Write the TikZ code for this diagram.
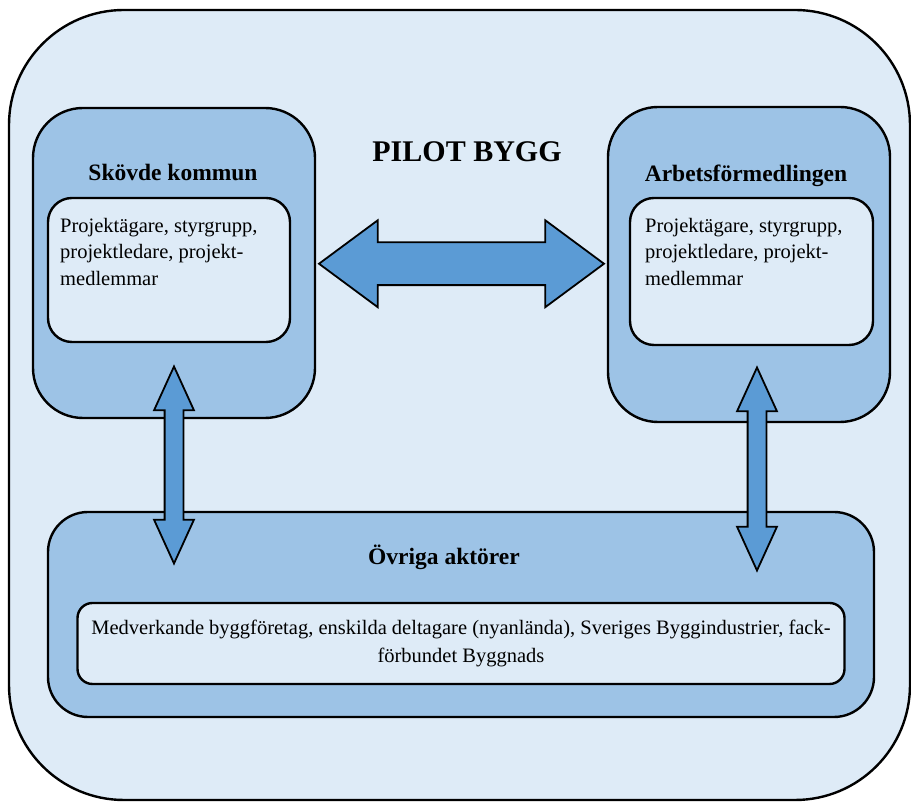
\documentclass[tikz,border=0pt]{standalone}
\usepackage{fontspec}
\setmainfont{Liberation Serif}
\usetikzlibrary{calc, positioning, shapes.arrows}
\definecolor{paleblue}{HTML}{DEEBF7}
\definecolor{midblue}{HTML}{9DC3E6}
\definecolor{arrowblue}{HTML}{5B9BD5}

\begin{document}
\begin{tikzpicture}[x=1pt, y=1pt,
box/.style = {rectangle, draw, line width=2.4pt, inner sep=0pt, outer sep=0pt},
party/.style = {box, fill=midblue, rounded corners=50pt, minimum width=282pt},
roles/.style = {box, fill=paleblue, rounded corners=24pt},
head/.style = {font=\fontsize{23.5}{28}\selectfont\bfseries},
body/.style = {font=\fontsize{20.5}{26.5}\selectfont, align=left, inner sep=0pt},
DA/.style = {% Double Arrow
double arrow, draw, line width=1.8pt, fill=arrowblue, inner xsep=0pt},
LA/.style = {% Link Arrow, between the parties
DA, inner ysep=20.5pt, double arrow head extend=22pt,
double arrow tip angle=73, minimum height=#1},
VA/.style = {% Vertical Arrow, down to the others
DA, rotate=90, inner ysep=8.5pt, double arrow head extend=10.5pt,
double arrow tip angle=49, minimum height=#1}]
\useasboundingbox (0,0) rectangle (911,802);
\node[box, fill=paleblue, rounded corners=115pt, minimum width=901pt, minimum height=790pt] (pilot) at (459.5,397) {};
\node[font=\fontsize{30}{36}\selectfont\bfseries] (title) at (467,650) {PILOT BYGG};
% the two parties
\node[party, minimum height=310pt] (skovde) at (174,539) {};
\node[party, minimum height=315pt] (arbets) at (749,537.5) {};
\node[roles, minimum width=242pt, minimum height=144pt] (skovdeIn) at (169,532) {};
\node[roles, minimum width=243pt, minimum height=147pt] (arbetsIn) at (751.5,530.5) {};
\node[head] (skovdeHead) at (173,629) {Skövde kommun};
\node[head] (arbetsHead) at (746,626) {Arbetsförmedlingen};
\node[body, below right=20pt and 12pt of skovdeIn.north west] (skovdeRoles)
  {Projektägare, styrgrupp,\\projektledare, projekt-\\medlemmar};
\node[body, below right=20pt and 15pt of arbetsIn.north west] (arbetsRoles)
  {Projektägare, styrgrupp,\\projektledare, projekt-\\medlemmar};
% the other actors
\node[box, fill=midblue, rounded corners=40pt, minimum width=826pt, minimum height=205pt] (ovriga) at (461,187.5) {};
\node[head] (ovrigaHead) at (444,245) {Övriga aktörer};
\node[roles, rounded corners=15pt, minimum width=767pt, minimum height=81pt,
  font=\fontsize{20.5}{28}\selectfont, align=center] (ovrigaIn) at (461,158.5)
  {Medverkande byggföretag, enskilda deltagare (nyanlända), Sveriges Byggindustrier, fack-\\förbundet Byggnads};
% arrows between the boxes
\node[LA=285pt] (link) at ($(skovde.east)!.5!(arbets.west)$) {};
\node[VA=197pt] (skovdeLink) at ($(skovde.south)!.5!(skovde.south |- ovriga.north)$) {};
\node[VA=203pt] (arbetsLink) at ($(arbets.south)!.5!(arbets.south |- ovriga.north)+(8,-2)$) {};
\end{tikzpicture}
\end{document}
